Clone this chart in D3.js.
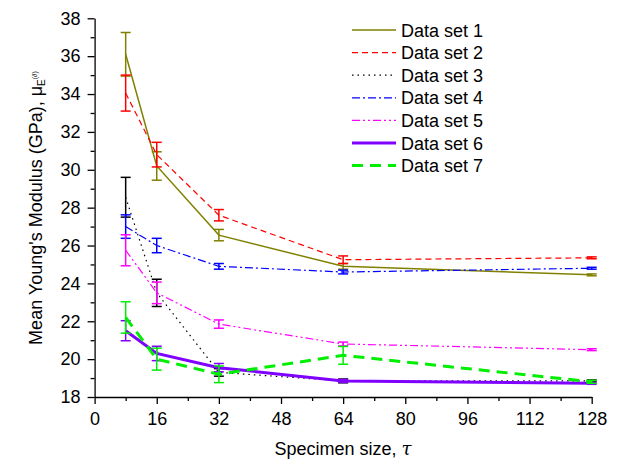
<!DOCTYPE html>
<html>
<head>
<meta charset="utf-8">
<script src="https://cdn.jsdelivr.net/npm/d3@7"></script>
<style>
	body { margin: 0; background: #fff; }
	svg text { font-family: "Liberation Sans", Arial, sans-serif; fill: #000; }
	.axis path, .axis line { stroke: #000; stroke-width: 1.3; }
</style>
</head>
<body>
<div id="chart"></div>
<script>

// specimen sizes on the x axis
var sizes = [8, 16, 32, 64, 128];

// mean values and error (half height of bar) per data set
var set1 = [36.1, 30.2, 26.55, 24.9, 24.45];
var err1 = [1.15, 0.75, 0.3, 0.15, 0.05];
var set2 = [34.05, 30.8, 27.6, 25.25, 25.35];
var err2 = [0.95, 0.65, 0.3, 0.2, 0.05];
var set3 = [28.55, 23.5, 19.3, 18.85, 18.85];
var err3 = [1.05, 0.72, 0.2, 0.1, 0.05];
var set4 = [27.0, 26.0, 24.9, 24.6, 24.8];
var err4 = [0.62, 0.38, 0.15, 0.1, 0.05];
var set5 = [25.75, 23.5, 21.85, 20.8, 20.5];
var err5 = [0.82, 0.57, 0.22, 0.1, 0.05];
var set6 = [21.5, 20.3, 19.55, 18.85, 18.72];
var err6 = [0.53, 0.38, 0.22, 0.08, 0.05];
var set7 = [22.2, 20.0, 19.2, 20.2, 18.8];
var err7 = [0.83, 0.58, 0.44, 0.47, 0.08];

var names = ["Data set 1", "Data set 2", "Data set 3", "Data set 4", "Data set 5", "Data set 6", "Data set 7"];
var x_ticks = [0, 16, 32, 48, 64, 80, 96, 112, 128];
var y_ticks = [18, 20, 22, 24, 26, 28, 30, 32, 34, 36, 38];

// styles for each set
var colors = ["#808000", "#ff0000", "#000000", "#0000ff", "#ff00ff", "#8000ff", "#00ee00"];
var widths = [1.5, 1.2, 1.2, 1.2, 1.2, 3, 3];
var dashes = [null, "6,4", "1.5,4", "8,3,2,3", "8,3,2,3,2,3", null, "11,7"];

function render_chart(){
	var means = [set1, set2, set3, set4, set5, set6, set7];
	var errs = [err1, err2, err3, err4, err5, err6, err7];

	var svg = d3.select("#chart").append("svg")
		.attr("width", 643)
		.attr("height", 462);

	var x = d3.scaleLinear().domain([0, 128]).range([94.6, 591.7]);
	var y = d3.scaleLinear().domain([18, 38]).range([397, 18.3]);

	// minor ticks first
	svg.append("g")
		.attr("class", "axis")
		.attr("transform", "translate(0,397)")
		.call(d3.axisBottom(x).tickValues(d3.range(8, 128, 16)).tickSize(4).tickFormat(""))
		.select(".domain").remove();
	svg.append("g")
		.attr("class", "axis")
		.attr("transform", "translate(94.6,0)")
		.call(d3.axisLeft(y).tickValues(d3.range(19, 38, 2)).tickSize(4).tickFormat(""))
		.select(".domain").remove();

	// X Axis
	var xa = svg.append("g")
		.attr("class", "axis")
		.attr("transform", "translate(0,397)")
		.call(d3.axisBottom(x).tickValues(x_ticks).tickSize(7).tickSizeOuter(0).tickPadding(8));
	xa.selectAll("text").style("font-size", "18px");

	// Y Axis
	var ya = svg.append("g")
		.attr("class", "axis")
		.attr("transform", "translate(94.6,0)")
		.call(d3.axisLeft(y).tickValues(y_ticks).tickSize(7).tickSizeOuter(0).tickPadding(7));
	ya.selectAll("text").style("font-size", "18px");

	// axis titles
	var xt = svg.append("text")
		.attr("x", 343)
		.attr("y", 455)
		.attr("text-anchor", "middle")
		.style("font-size", "18px")
		.text("Specimen size, ");
	xt.append("tspan")
		.style("font-family", "'DejaVu Serif', serif")
		.style("font-style", "italic")
		.text("\u03c4");

	var yt = svg.append("text")
		.attr("transform", "translate(42,208) rotate(-90)")
		.attr("text-anchor", "middle")
		.style("font-size", "18px")
		.text("Mean Young's Modulus (GPa), \u03bc");
	yt.append("tspan").attr("dy", 3).style("font-size", "10px").text("E");
	yt.append("tspan").attr("dy", -8).style("font-size", "7px").text("(\u2202)");

	// lines
	var line = d3.line()
		.x(function(d) { return x(d.x); })
		.y(function(d) { return y(d.y); });

	for (var s = 0; s < means.length; s++){
		var pts = [];
		for (var i = 0; i < sizes.length; i++){
			pts.push({x: sizes[i], y: means[s][i], e: errs[s][i]});
		}
		var g = svg.append("g");
		g.append("path")
			.datum(pts)
			.attr("fill", "none")
			.attr("stroke", colors[s])
			.attr("stroke-width", widths[s])
			.attr("stroke-dasharray", dashes[s])
			.attr("d", line);

		// error bars
		var eb = g.selectAll(".eb").data(pts).enter().append("g")
			.attr("stroke", colors[s])
			.attr("stroke-width", 1.5);
		eb.append("line")
			.attr("x1", function(d) { return x(d.x); })
			.attr("x2", function(d) { return x(d.x); })
			.attr("y1", function(d) { return y(d.y + d.e); })
			.attr("y2", function(d) { return y(d.y - d.e); });
		eb.append("line")
			.attr("x1", function(d) { return x(d.x) - 5; })
			.attr("x2", function(d) { return x(d.x) + 5; })
			.attr("y1", function(d) { return y(d.y + d.e); })
			.attr("y2", function(d) { return y(d.y + d.e); });
		eb.append("line")
			.attr("x1", function(d) { return x(d.x) - 5; })
			.attr("x2", function(d) { return x(d.x) + 5; })
			.attr("y1", function(d) { return y(d.y - d.e); })
			.attr("y2", function(d) { return y(d.y - d.e); });
	}

	// legend
	var leg = svg.append("g");
	for (var k = 0; k < names.length; k++){
		var ly = 30 + k * 22.6;
		leg.append("line")
			.attr("x1", 352).attr("x2", 396)
			.attr("y1", ly).attr("y2", ly)
			.attr("stroke", colors[k])
			.attr("stroke-width", widths[k])
			.attr("stroke-dasharray", dashes[k]);
		leg.append("text")
			.attr("x", 401)
			.attr("y", ly + 6.5)
			.style("font-size", "18px")
			.text(names[k]);
	}
}

window.onload = render_chart;
</script>
</body>
</html>
